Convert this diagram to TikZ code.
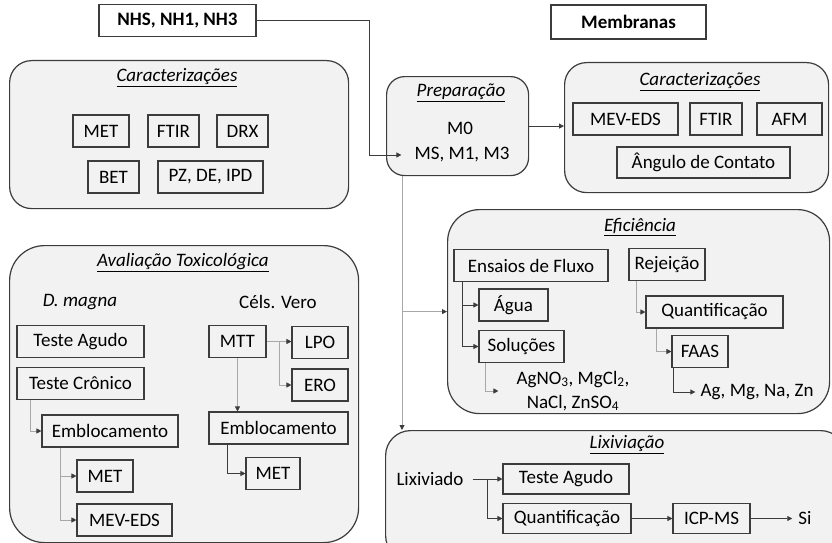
\documentclass[tikz,border=0pt]{standalone}
\usepackage{fontspec}
\setmainfont{Carlito}
\usetikzlibrary{arrows.meta, positioning, calc}

\definecolor{fundo}{HTML}{F2F2F2}
\definecolor{borda}{HTML}{3C3C3C}
\definecolor{cinza}{HTML}{A8A8A8}
\newcommand{\tamanho}{\fontsize{19}{23}\selectfont}

\begin{document}
\begin{tikzpicture}[x=1pt, y=-1pt,
    grupo/.style={rectangle, rounded corners=#1, draw=borda, line width=1.2pt, fill=fundo, anchor=north west, inner sep=0pt},
    grupo/.default=20pt,
    caixa/.style={rectangle, draw=borda, line width=1.1pt, fill=fundo, minimum height=32pt, inner xsep=2pt, inner ysep=0pt, font=\tamanho},
    topo/.style={rectangle, draw=borda, line width=1.1pt, fill=white, minimum height=32pt, font=\tamanho\bfseries},
    titulo/.style={font=\tamanho\itshape, inner sep=1pt},
    texto/.style={font=\tamanho, inner sep=2pt},
    seta/.style={-{Triangle[length=5pt, width=5pt]}, draw=borda, line width=0.8pt},
    setac/.style={-{Triangle[length=5pt, width=5pt, color=borda]}, draw=cinza, line width=0.9pt}
]
    \useasboundingbox (0,0) rectangle (832,543);
    \clip (0,0) rectangle (832,543);

    % Amostras
    \node[topo, minimum width=157pt] (nhs) at (177.5,20.5) {NHS, NH1, NH3};
    \node[topo, minimum width=155pt, minimum height=34pt] (membranas) at (628.5,22) {Membranas};

    % Grupos
    \node[grupo=22pt, minimum width=339pt, minimum height=148pt] (carNP) at (9,60) {};
    \node[grupo=18pt, minimum width=142pt, minimum height=99pt] (prep) at (386,76) {};
    \node[grupo=22pt, minimum width=264pt, minimum height=130pt] (carMb) at (564,62) {};
    \node[grupo=35pt, minimum width=349pt, minimum height=297pt] (aval) at (9,245) {};
    \node[grupo=32pt, minimum width=382pt, minimum height=204pt] (efic) at (447,209) {};
    \node[grupo=25pt, minimum width=460pt, minimum height=130pt] (lixi) at (385,430) {};

    % Caracterizações (nanopartículas)
    \node[titulo] (tCarNP) at (177,78) {\underline{Caracterizações}};
    \node[caixa, minimum width=56pt] (metNP) at (101,131) {MET};
    \node[caixa, minimum width=51pt] (ftirNP) at (173.5,131) {FTIR};
    \node[caixa, minimum width=51pt] (drx) at (242.5,131) {DRX};
    \node[caixa, minimum width=51pt] (bet) at (113.5,177) {BET};
    \node[caixa, minimum width=105pt] (pz) at (210.5,177) {PZ, DE, IPD};

    % Preparação
    \node[titulo] (tPrep) at (461,93) {\underline{Preparação}};
    \node[texto] (m0) at (460,128) {M0};
    \node[texto, inner xsep=13pt] (ms) at (462,155) {MS, M1, M3};

    % Caracterizações (membranas)
    \node[titulo] (tCarMb) at (700,82) {\underline{Caracterizações}};
    \node[caixa, minimum width=105pt] (mevMb) at (625.5,119) {MEV-EDS};
    \node[caixa, minimum width=52pt] (ftirMb) at (716,119) {FTIR};
    \node[caixa, minimum width=65pt] (afm) at (789.5,119) {AFM};
    \node[caixa, minimum width=173pt, minimum height=31pt] (angulo) at (703.5,162.5) {Ângulo de Contato};

    % Avaliação toxicológica
    \node[titulo] (tAval) at (183,263) {\underline{Avaliação Toxicológica}};
    \node[titulo] (dmagna) at (80,302) {D. magna};
    \node[texto] (vero) at (278,302) {Céls. Vero};
    \node[caixa, minimum width=127pt] (agudoD) at (80.5,341.5) {Teste Agudo};
    \node[caixa, minimum width=127pt] (cronico) at (80.5,383.5) {Teste Crônico};
    \node[caixa, minimum width=136pt] (emblD) at (110,431) {Emblocamento};
    \node[caixa, minimum width=56pt] (metD) at (105,476) {MET};
    \node[caixa, minimum width=95pt] (mevD) at (124.5,520) {MEV-EDS};
    \node[caixa, minimum width=57pt] (mtt) at (237.5,341.5) {MTT};
    \node[caixa, minimum width=56pt] (lpo) at (320,342.5) {LPO};
    \node[caixa, minimum width=56pt] (ero) at (320,385) {ERO};
    \node[caixa, minimum width=139pt] (emblV) at (278.5,428) {Emblocamento};
    \node[caixa, minimum width=54pt] (metV) at (273,473.5) {MET};

    % Eficiência
    \node[titulo] (tEfic) at (640,227) {\underline{Eficiência}};
    \node[caixa, minimum width=154pt] (fluxo) at (531,265.5) {Ensaios de Fluxo};
    \node[caixa, minimum width=69pt] (agua) at (513.5,305) {Água};
    \node[caixa, minimum width=85pt] (solucoes) at (521.5,346.5) {Soluções};
    \node[texto, align=center, inner xsep=18pt, font=\fontsize{19}{24}\selectfont] (sais) at (573,391)
        {AgNO\textsubscript{3}, MgCl\textsubscript{2},\\NaCl, ZnSO\textsubscript{4}};
    \node[caixa, minimum width=76pt] (rejeicao) at (667,264.5) {Rejeição};
    \node[caixa, minimum width=137pt] (quantE) at (714.5,312) {Quantificação};
    \node[caixa, minimum width=56pt] (faas) at (700,351.5) {FAAS};
    \node[texto, inner xsep=5pt] (metais) at (757,392) {Ag, Mg, Na, Zn};

    % Lixiviação
    \node[titulo] (tLixi) at (627,445) {\underline{Lixiviação}};
    \node[texto, inner xsep=9pt] (lixiviado) at (430,479) {Lixiviado};
    \node[caixa, minimum width=126pt, minimum height=30pt] (agudoL) at (566,479) {Teste Agudo};
    \node[caixa, minimum width=128pt, minimum height=30pt] (quantL) at (567,518.5) {Quantificação};
    \node[caixa, minimum width=77pt, minimum height=30pt] (icp) at (711.5,518.5) {ICP-MS};
    \node[texto, inner xsep=6pt] (si) at (805,518.5) {Si};

    % Conexões
    \coordinate (dobra) at (369,20.5);
    \draw[seta] (nhs.east) -- (dobra) |- (ms.west);
    \draw[seta] (prep.east) -- (prep.east -| carMb.west);
    \coordinate (tronco) at ([xshift=16pt]prep.south west);
    \draw[setac] (tronco) -- (tronco |- lixi.north);
    \draw[setac] (tronco |- efic.west) -- (efic.west);

    \draw[setac] ([xshift=14pt]cronico.south west) |- (emblD.west);
    \draw[setac] ([xshift=19pt]emblD.south west) |- (metD.west);
    \draw[setac] ([xshift=19pt]emblD.south west) |- (mevD.west);
    \draw[setac] (mtt.east) -- (mtt.east -| lpo.west);
    \draw[setac] ($(mtt.east)!0.5!(mtt.east -| lpo.west)$) |- (ero.west);
    \draw[setac] (mtt.south) -- (mtt.south |- emblV.north);
    \draw[seta] ([xshift=19pt]emblV.south west) |- (metV.west);

    \draw[seta] ([xshift=9pt]fluxo.south west) |- (agua.west);
    \draw[seta] ([xshift=9pt]fluxo.south west) |- (solucoes.west);
    \draw[setac] ([xshift=7pt]solucoes.south west) |- (sais.west);
    \draw[setac] ([xshift=8pt]rejeicao.south west) |- (quantE.west);
    \draw[setac] ([xshift=11pt]quantE.south west) |- (faas.west);
    \draw[seta] ([xshift=2pt]faas.south west) |- (metais.west);

    \draw[seta] (lixiviado.east) -- (agudoL.west);
    \draw[seta] ($(lixiviado.east)!0.5!(agudoL.west)$) |- (quantL.west);
    \draw[seta] (quantL) -- (icp);
    \draw[seta] (icp) -- (si);

\end{tikzpicture}
\end{document}
